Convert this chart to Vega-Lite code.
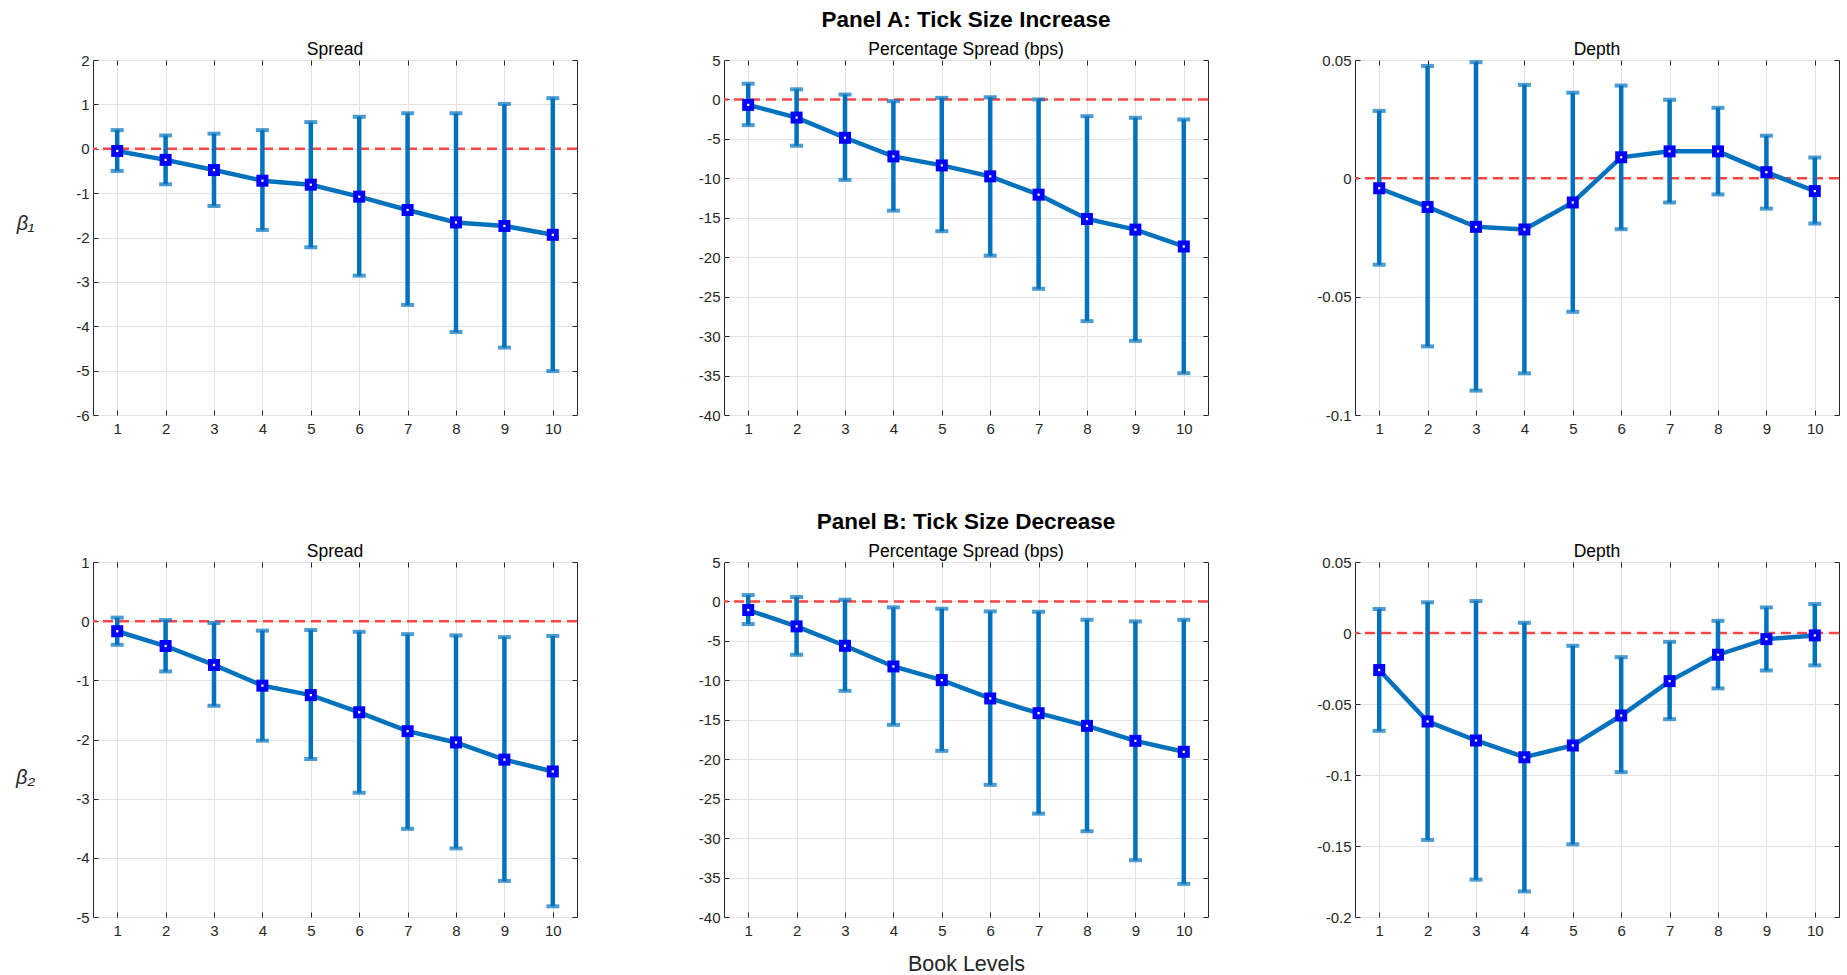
{
  "$schema": "https://vega.github.io/schema/vega-lite/v6.json",
  "background": "white",
  "padding": {"left": 14, "top": 8, "right": 5, "bottom": 3},
  "config": {
    "font": "Liberation Sans",
    "view": {"stroke": "#262626", "strokeWidth": 1},
    "axis": {"labelFont": "Liberation Sans", "labelFontSize": 15, "labelColor": "#262626", "tickColor": "#262626", "tickSize": -5, "tickWidth": 1, "gridColor": "#e3e3e3", "gridWidth": 1, "domain": false, "titleFont": "Liberation Sans", "titleColor": "#262626", "titleFontWeight": "normal", "labelFlush": false, "labelOverlap": false},
    "title": {"font": "Liberation Sans", "fontSize": 17.5, "fontWeight": "normal", "color": "#000000", "offset": -5, "subtitleFont": "Liberation Sans", "subtitleFontSize": 17.5, "subtitleColor": "#000000", "subtitlePadding": 9}
  },
  "datasets": {
    "d": [
      {"p": "A1", "x": 1, "est": -0.05, "lo": -0.50, "hi": 0.42},
      {"p": "A1", "x": 2, "est": -0.25, "lo": -0.80, "hi": 0.30},
      {"p": "A1", "x": 3, "est": -0.48, "lo": -1.29, "hi": 0.34},
      {"p": "A1", "x": 4, "est": -0.72, "lo": -1.83, "hi": 0.42},
      {"p": "A1", "x": 5, "est": -0.81, "lo": -2.22, "hi": 0.60},
      {"p": "A1", "x": 6, "est": -1.08, "lo": -2.86, "hi": 0.72},
      {"p": "A1", "x": 7, "est": -1.38, "lo": -3.52, "hi": 0.80},
      {"p": "A1", "x": 8, "est": -1.66, "lo": -4.13, "hi": 0.80},
      {"p": "A1", "x": 9, "est": -1.74, "lo": -4.48, "hi": 1.01},
      {"p": "A1", "x": 10, "est": -1.94, "lo": -5.01, "hi": 1.14},
      {"p": "A2", "x": 1, "est": -0.69, "lo": -3.26, "hi": 2.0},
      {"p": "A2", "x": 2, "est": -2.3, "lo": -5.87, "hi": 1.29},
      {"p": "A2", "x": 3, "est": -4.86, "lo": -10.2, "hi": 0.62},
      {"p": "A2", "x": 4, "est": -7.22, "lo": -14.1, "hi": -0.22},
      {"p": "A2", "x": 5, "est": -8.36, "lo": -16.7, "hi": 0.2},
      {"p": "A2", "x": 6, "est": -9.75, "lo": -19.8, "hi": 0.28},
      {"p": "A2", "x": 7, "est": -12.07, "lo": -24.0, "hi": 0.0},
      {"p": "A2", "x": 8, "est": -15.15, "lo": -28.1, "hi": -2.12},
      {"p": "A2", "x": 9, "est": -16.5, "lo": -30.6, "hi": -2.33},
      {"p": "A2", "x": 10, "est": -18.64, "lo": -34.7, "hi": -2.54},
      {"p": "A3", "x": 1, "est": -0.0042, "lo": -0.0365, "hi": 0.0285},
      {"p": "A3", "x": 2, "est": -0.0121, "lo": -0.0710, "hi": 0.0475},
      {"p": "A3", "x": 3, "est": -0.0205, "lo": -0.0897, "hi": 0.0491},
      {"p": "A3", "x": 4, "est": -0.0216, "lo": -0.0824, "hi": 0.0395},
      {"p": "A3", "x": 5, "est": -0.0102, "lo": -0.0564, "hi": 0.0362},
      {"p": "A3", "x": 6, "est": 0.0089, "lo": -0.0215, "hi": 0.0392},
      {"p": "A3", "x": 7, "est": 0.0114, "lo": -0.0102, "hi": 0.0332},
      {"p": "A3", "x": 8, "est": 0.0114, "lo": -0.0068, "hi": 0.0298},
      {"p": "A3", "x": 9, "est": 0.0026, "lo": -0.0128, "hi": 0.0180},
      {"p": "A3", "x": 10, "est": -0.0054, "lo": -0.0191, "hi": 0.0088},
      {"p": "B1", "x": 1, "est": -0.17, "lo": -0.40, "hi": 0.06},
      {"p": "B1", "x": 2, "est": -0.42, "lo": -0.85, "hi": 0.02},
      {"p": "B1", "x": 3, "est": -0.74, "lo": -1.43, "hi": -0.03},
      {"p": "B1", "x": 4, "est": -1.09, "lo": -2.02, "hi": -0.16},
      {"p": "B1", "x": 5, "est": -1.25, "lo": -2.33, "hi": -0.15},
      {"p": "B1", "x": 6, "est": -1.54, "lo": -2.90, "hi": -0.18},
      {"p": "B1", "x": 7, "est": -1.86, "lo": -3.51, "hi": -0.22},
      {"p": "B1", "x": 8, "est": -2.05, "lo": -3.84, "hi": -0.24},
      {"p": "B1", "x": 9, "est": -2.34, "lo": -4.39, "hi": -0.27},
      {"p": "B1", "x": 10, "est": -2.54, "lo": -4.82, "hi": -0.25},
      {"p": "B2", "x": 1, "est": -1.09, "lo": -2.87, "hi": 0.81},
      {"p": "B2", "x": 2, "est": -3.16, "lo": -6.76, "hi": 0.56},
      {"p": "B2", "x": 3, "est": -5.62, "lo": -11.33, "hi": 0.22},
      {"p": "B2", "x": 4, "est": -8.24, "lo": -15.64, "hi": -0.75},
      {"p": "B2", "x": 5, "est": -9.97, "lo": -18.94, "hi": -0.92},
      {"p": "B2", "x": 6, "est": -12.3, "lo": -23.25, "hi": -1.26},
      {"p": "B2", "x": 7, "est": -14.16, "lo": -26.9, "hi": -1.31},
      {"p": "B2", "x": 8, "est": -15.77, "lo": -29.13, "hi": -2.32},
      {"p": "B2", "x": 9, "est": -17.67, "lo": -32.8, "hi": -2.53},
      {"p": "B2", "x": 10, "est": -19.06, "lo": -35.8, "hi": -2.32},
      {"p": "B3", "x": 1, "est": -0.0261, "lo": -0.0689, "hi": 0.0169},
      {"p": "B3", "x": 2, "est": -0.0623, "lo": -0.1457, "hi": 0.0216},
      {"p": "B3", "x": 3, "est": -0.0757, "lo": -0.1737, "hi": 0.0225},
      {"p": "B3", "x": 4, "est": -0.0875, "lo": -0.1820, "hi": 0.0072},
      {"p": "B3", "x": 5, "est": -0.0792, "lo": -0.1488, "hi": -0.0090},
      {"p": "B3", "x": 6, "est": -0.0581, "lo": -0.0980, "hi": -0.0170},
      {"p": "B3", "x": 7, "est": -0.0339, "lo": -0.0607, "hi": -0.0062},
      {"p": "B3", "x": 8, "est": -0.0153, "lo": -0.0390, "hi": 0.0086},
      {"p": "B3", "x": 9, "est": -0.0043, "lo": -0.0264, "hi": 0.0180},
      {"p": "B3", "x": 10, "est": -0.0017, "lo": -0.0228, "hi": 0.0204}
    ]
  },
  "columns": 3,
  "spacing": {"row": 147, "column": 147},
  "bounds": "flush",
  "concat": [
    {
      "width": 484, "height": 355,
      "title": {"text": "Spread"},
      "resolve": {"axis": {"x": "independent", "y": "independent"}},
      "layer": [
        {"data": {"values": [{"zero": 0}]}, "mark": {"type": "rule", "color": "#ff4646", "strokeWidth": 2.5, "strokeDash": [10, 6]}, "encoding": {"y": {"field": "zero", "type": "quantitative", "axis": null}}},
        {"data": {"name": "d"}, "transform": [{"filter": "datum.p == 'A1'"}], "mark": {"type": "rule", "color": "#0072bd", "strokeWidth": 4.5},
          "encoding": {
            "x": {"field": "x", "type": "quantitative", "scale": {"domain": [0.5, 10.5], "nice": false, "zero": false}, "axis": {"orient": "bottom", "values": [1,2,3,4,5,6,7,8,9,10], "title": null, "labelPadding": 11, "grid": true}},
            "y": {"field": "lo", "type": "quantitative", "scale": {"domain": [-6, 2], "nice": false, "zero": false}, "axis": {"orient": "left", "values": [-6,-5,-4,-3,-2,-1,0,1,2], "labelExpr": "'' + datum.value", "labelPadding": 9, "grid": true, "title": "β₁", "titleAngle": 0, "titleX": -68, "titleY": 163, "titleAlign": "center", "titleBaseline": "middle", "titleFontSize": 20, "titleFontStyle": "italic"}},
            "y2": {"field": "hi"}}},
        {"data": {"name": "d"}, "transform": [{"filter": "datum.p == 'A1'"}, {"fold": ["lo", "hi"]}], "mark": {"type": "tick", "orient": "horizontal", "color": "#0072bd", "size": 13, "thickness": 4},
          "encoding": {
            "x": {"field": "x", "type": "quantitative", "axis": {"orient": "top", "values": [1,2,3,4,5,6,7,8,9,10], "labels": false, "grid": false, "title": null}},
            "y": {"field": "value", "type": "quantitative", "axis": {"orient": "right", "values": [-6,-5,-4,-3,-2,-1,0,1,2], "labels": false, "grid": false, "title": null}}}},
        {"data": {"name": "d"}, "transform": [{"filter": "datum.p == 'A1'"}], "mark": {"type": "line", "color": "#0072bd", "strokeWidth": 4.5},
          "encoding": {"x": {"field": "x", "type": "quantitative", "axis": null}, "y": {"field": "est", "type": "quantitative", "axis": null}}},
        {"data": {"name": "d"}, "transform": [{"filter": "datum.p == 'A1'"}], "mark": {"type": "point", "shape": "square", "filled": true, "color": "#0000ff", "size": 144, "opacity": 1},
          "encoding": {"x": {"field": "x", "type": "quantitative", "axis": null}, "y": {"field": "est", "type": "quantitative", "axis": null}}},
        {"data": {"name": "d"}, "transform": [{"filter": "datum.p == 'A1'"}], "mark": {"type": "point", "shape": "square", "filled": true, "color": "#ffffff", "size": 5, "opacity": 1},
          "encoding": {"x": {"field": "x", "type": "quantitative", "axis": null}, "y": {"field": "est", "type": "quantitative", "axis": null}}}
      ]
    },
    {
      "width": 484, "height": 355,
      "title": {"text": "Panel A: Tick Size Increase", "fontSize": 22.5, "fontWeight": "bold", "subtitle": "Percentage Spread (bps)"},
      "resolve": {"axis": {"x": "independent", "y": "independent"}},
      "layer": [
        {"data": {"values": [{"zero": 0}]}, "mark": {"type": "rule", "color": "#ff4646", "strokeWidth": 2.5, "strokeDash": [10, 6]}, "encoding": {"y": {"field": "zero", "type": "quantitative", "axis": null}}},
        {"data": {"name": "d"}, "transform": [{"filter": "datum.p == 'A2'"}], "mark": {"type": "rule", "color": "#0072bd", "strokeWidth": 4.5},
          "encoding": {
            "x": {"field": "x", "type": "quantitative", "scale": {"domain": [0.5, 10.5], "nice": false, "zero": false}, "axis": {"orient": "bottom", "values": [1,2,3,4,5,6,7,8,9,10], "title": null, "labelPadding": 11, "grid": true}},
            "y": {"field": "lo", "type": "quantitative", "scale": {"domain": [-40, 5], "nice": false, "zero": false}, "axis": {"orient": "left", "values": [-40,-35,-30,-25,-20,-15,-10,-5,0,5], "labelExpr": "'' + datum.value", "labelPadding": 9, "grid": true, "title": null}},
            "y2": {"field": "hi"}}},
        {"data": {"name": "d"}, "transform": [{"filter": "datum.p == 'A2'"}, {"fold": ["lo", "hi"]}], "mark": {"type": "tick", "orient": "horizontal", "color": "#0072bd", "size": 13, "thickness": 4},
          "encoding": {
            "x": {"field": "x", "type": "quantitative", "axis": {"orient": "top", "values": [1,2,3,4,5,6,7,8,9,10], "labels": false, "grid": false, "title": null}},
            "y": {"field": "value", "type": "quantitative", "axis": {"orient": "right", "values": [-40,-35,-30,-25,-20,-15,-10,-5,0,5], "labels": false, "grid": false, "title": null}}}},
        {"data": {"name": "d"}, "transform": [{"filter": "datum.p == 'A2'"}], "mark": {"type": "line", "color": "#0072bd", "strokeWidth": 4.5},
          "encoding": {"x": {"field": "x", "type": "quantitative", "axis": null}, "y": {"field": "est", "type": "quantitative", "axis": null}}},
        {"data": {"name": "d"}, "transform": [{"filter": "datum.p == 'A2'"}], "mark": {"type": "point", "shape": "square", "filled": true, "color": "#0000ff", "size": 144, "opacity": 1},
          "encoding": {"x": {"field": "x", "type": "quantitative", "axis": null}, "y": {"field": "est", "type": "quantitative", "axis": null}}},
        {"data": {"name": "d"}, "transform": [{"filter": "datum.p == 'A2'"}], "mark": {"type": "point", "shape": "square", "filled": true, "color": "#ffffff", "size": 5, "opacity": 1},
          "encoding": {"x": {"field": "x", "type": "quantitative", "axis": null}, "y": {"field": "est", "type": "quantitative", "axis": null}}}
      ]
    },
    {
      "width": 484, "height": 355,
      "title": {"text": "Depth"},
      "resolve": {"axis": {"x": "independent", "y": "independent"}},
      "layer": [
        {"data": {"values": [{"zero": 0}]}, "mark": {"type": "rule", "color": "#ff4646", "strokeWidth": 2.5, "strokeDash": [10, 6]}, "encoding": {"y": {"field": "zero", "type": "quantitative", "axis": null}}},
        {"data": {"name": "d"}, "transform": [{"filter": "datum.p == 'A3'"}], "mark": {"type": "rule", "color": "#0072bd", "strokeWidth": 4.5},
          "encoding": {
            "x": {"field": "x", "type": "quantitative", "scale": {"domain": [0.5, 10.5], "nice": false, "zero": false}, "axis": {"orient": "bottom", "values": [1,2,3,4,5,6,7,8,9,10], "title": null, "labelPadding": 11, "grid": true}},
            "y": {"field": "lo", "type": "quantitative", "scale": {"domain": [-0.1, 0.05], "nice": false, "zero": false}, "axis": {"orient": "left", "values": [-0.1,-0.05,0,0.05], "labelExpr": "'' + datum.value", "labelPadding": 9, "grid": true, "title": null}},
            "y2": {"field": "hi"}}},
        {"data": {"name": "d"}, "transform": [{"filter": "datum.p == 'A3'"}, {"fold": ["lo", "hi"]}], "mark": {"type": "tick", "orient": "horizontal", "color": "#0072bd", "size": 13, "thickness": 4},
          "encoding": {
            "x": {"field": "x", "type": "quantitative", "axis": {"orient": "top", "values": [1,2,3,4,5,6,7,8,9,10], "labels": false, "grid": false, "title": null}},
            "y": {"field": "value", "type": "quantitative", "axis": {"orient": "right", "values": [-0.1,-0.05,0,0.05], "labels": false, "grid": false, "title": null}}}},
        {"data": {"name": "d"}, "transform": [{"filter": "datum.p == 'A3'"}], "mark": {"type": "line", "color": "#0072bd", "strokeWidth": 4.5},
          "encoding": {"x": {"field": "x", "type": "quantitative", "axis": null}, "y": {"field": "est", "type": "quantitative", "axis": null}}},
        {"data": {"name": "d"}, "transform": [{"filter": "datum.p == 'A3'"}], "mark": {"type": "point", "shape": "square", "filled": true, "color": "#0000ff", "size": 144, "opacity": 1},
          "encoding": {"x": {"field": "x", "type": "quantitative", "axis": null}, "y": {"field": "est", "type": "quantitative", "axis": null}}},
        {"data": {"name": "d"}, "transform": [{"filter": "datum.p == 'A3'"}], "mark": {"type": "point", "shape": "square", "filled": true, "color": "#ffffff", "size": 5, "opacity": 1},
          "encoding": {"x": {"field": "x", "type": "quantitative", "axis": null}, "y": {"field": "est", "type": "quantitative", "axis": null}}}
      ]
    },
    {
      "width": 484, "height": 355,
      "title": {"text": "Spread"},
      "resolve": {"axis": {"x": "independent", "y": "independent"}},
      "layer": [
        {"data": {"values": [{"zero": 0}]}, "mark": {"type": "rule", "color": "#ff4646", "strokeWidth": 2.5, "strokeDash": [10, 6]}, "encoding": {"y": {"field": "zero", "type": "quantitative", "axis": null}}},
        {"data": {"name": "d"}, "transform": [{"filter": "datum.p == 'B1'"}], "mark": {"type": "rule", "color": "#0072bd", "strokeWidth": 4.5},
          "encoding": {
            "x": {"field": "x", "type": "quantitative", "scale": {"domain": [0.5, 10.5], "nice": false, "zero": false}, "axis": {"orient": "bottom", "values": [1,2,3,4,5,6,7,8,9,10], "title": null, "labelPadding": 11, "grid": true}},
            "y": {"field": "lo", "type": "quantitative", "scale": {"domain": [-5, 1], "nice": false, "zero": false}, "axis": {"orient": "left", "values": [-5,-4,-3,-2,-1,0,1], "labelExpr": "'' + datum.value", "labelPadding": 9, "grid": true, "title": "β₂", "titleAngle": 0, "titleX": -68, "titleY": 215, "titleAlign": "center", "titleBaseline": "middle", "titleFontSize": 20, "titleFontStyle": "italic"}},
            "y2": {"field": "hi"}}},
        {"data": {"name": "d"}, "transform": [{"filter": "datum.p == 'B1'"}, {"fold": ["lo", "hi"]}], "mark": {"type": "tick", "orient": "horizontal", "color": "#0072bd", "size": 13, "thickness": 4},
          "encoding": {
            "x": {"field": "x", "type": "quantitative", "axis": {"orient": "top", "values": [1,2,3,4,5,6,7,8,9,10], "labels": false, "grid": false, "title": null}},
            "y": {"field": "value", "type": "quantitative", "axis": {"orient": "right", "values": [-5,-4,-3,-2,-1,0,1], "labels": false, "grid": false, "title": null}}}},
        {"data": {"name": "d"}, "transform": [{"filter": "datum.p == 'B1'"}], "mark": {"type": "line", "color": "#0072bd", "strokeWidth": 4.5},
          "encoding": {"x": {"field": "x", "type": "quantitative", "axis": null}, "y": {"field": "est", "type": "quantitative", "axis": null}}},
        {"data": {"name": "d"}, "transform": [{"filter": "datum.p == 'B1'"}], "mark": {"type": "point", "shape": "square", "filled": true, "color": "#0000ff", "size": 144, "opacity": 1},
          "encoding": {"x": {"field": "x", "type": "quantitative", "axis": null}, "y": {"field": "est", "type": "quantitative", "axis": null}}},
        {"data": {"name": "d"}, "transform": [{"filter": "datum.p == 'B1'"}], "mark": {"type": "point", "shape": "square", "filled": true, "color": "#ffffff", "size": 5, "opacity": 1},
          "encoding": {"x": {"field": "x", "type": "quantitative", "axis": null}, "y": {"field": "est", "type": "quantitative", "axis": null}}}
      ]
    },
    {
      "width": 484, "height": 355,
      "title": {"text": "Panel B: Tick Size Decrease", "fontSize": 22.5, "fontWeight": "bold", "subtitle": "Percentage Spread (bps)"},
      "resolve": {"axis": {"x": "independent", "y": "independent"}},
      "layer": [
        {"data": {"values": [{"zero": 0}]}, "mark": {"type": "rule", "color": "#ff4646", "strokeWidth": 2.5, "strokeDash": [10, 6]}, "encoding": {"y": {"field": "zero", "type": "quantitative", "axis": null}}},
        {"data": {"name": "d"}, "transform": [{"filter": "datum.p == 'B2'"}], "mark": {"type": "rule", "color": "#0072bd", "strokeWidth": 4.5},
          "encoding": {
            "x": {"field": "x", "type": "quantitative", "scale": {"domain": [0.5, 10.5], "nice": false, "zero": false}, "axis": {"orient": "bottom", "values": [1,2,3,4,5,6,7,8,9,10], "title": "Book Levels", "titleFontSize": 21.5, "titlePadding": 15, "labelPadding": 11, "grid": true}},
            "y": {"field": "lo", "type": "quantitative", "scale": {"domain": [-40, 5], "nice": false, "zero": false}, "axis": {"orient": "left", "values": [-40,-35,-30,-25,-20,-15,-10,-5,0,5], "labelExpr": "'' + datum.value", "labelPadding": 9, "grid": true, "title": null}},
            "y2": {"field": "hi"}}},
        {"data": {"name": "d"}, "transform": [{"filter": "datum.p == 'B2'"}, {"fold": ["lo", "hi"]}], "mark": {"type": "tick", "orient": "horizontal", "color": "#0072bd", "size": 13, "thickness": 4},
          "encoding": {
            "x": {"field": "x", "type": "quantitative", "axis": {"orient": "top", "values": [1,2,3,4,5,6,7,8,9,10], "labels": false, "grid": false, "title": null}},
            "y": {"field": "value", "type": "quantitative", "axis": {"orient": "right", "values": [-40,-35,-30,-25,-20,-15,-10,-5,0,5], "labels": false, "grid": false, "title": null}}}},
        {"data": {"name": "d"}, "transform": [{"filter": "datum.p == 'B2'"}], "mark": {"type": "line", "color": "#0072bd", "strokeWidth": 4.5},
          "encoding": {"x": {"field": "x", "type": "quantitative", "axis": null}, "y": {"field": "est", "type": "quantitative", "axis": null}}},
        {"data": {"name": "d"}, "transform": [{"filter": "datum.p == 'B2'"}], "mark": {"type": "point", "shape": "square", "filled": true, "color": "#0000ff", "size": 144, "opacity": 1},
          "encoding": {"x": {"field": "x", "type": "quantitative", "axis": null}, "y": {"field": "est", "type": "quantitative", "axis": null}}},
        {"data": {"name": "d"}, "transform": [{"filter": "datum.p == 'B2'"}], "mark": {"type": "point", "shape": "square", "filled": true, "color": "#ffffff", "size": 5, "opacity": 1},
          "encoding": {"x": {"field": "x", "type": "quantitative", "axis": null}, "y": {"field": "est", "type": "quantitative", "axis": null}}}
      ]
    },
    {
      "width": 484, "height": 355,
      "title": {"text": "Depth"},
      "resolve": {"axis": {"x": "independent", "y": "independent"}},
      "layer": [
        {"data": {"values": [{"zero": 0}]}, "mark": {"type": "rule", "color": "#ff4646", "strokeWidth": 2.5, "strokeDash": [10, 6]}, "encoding": {"y": {"field": "zero", "type": "quantitative", "axis": null}}},
        {"data": {"name": "d"}, "transform": [{"filter": "datum.p == 'B3'"}], "mark": {"type": "rule", "color": "#0072bd", "strokeWidth": 4.5},
          "encoding": {
            "x": {"field": "x", "type": "quantitative", "scale": {"domain": [0.5, 10.5], "nice": false, "zero": false}, "axis": {"orient": "bottom", "values": [1,2,3,4,5,6,7,8,9,10], "title": null, "labelPadding": 11, "grid": true}},
            "y": {"field": "lo", "type": "quantitative", "scale": {"domain": [-0.2, 0.05], "nice": false, "zero": false}, "axis": {"orient": "left", "values": [-0.2,-0.15,-0.1,-0.05,0,0.05], "labelExpr": "'' + datum.value", "labelPadding": 9, "grid": true, "title": null}},
            "y2": {"field": "hi"}}},
        {"data": {"name": "d"}, "transform": [{"filter": "datum.p == 'B3'"}, {"fold": ["lo", "hi"]}], "mark": {"type": "tick", "orient": "horizontal", "color": "#0072bd", "size": 13, "thickness": 4},
          "encoding": {
            "x": {"field": "x", "type": "quantitative", "axis": {"orient": "top", "values": [1,2,3,4,5,6,7,8,9,10], "labels": false, "grid": false, "title": null}},
            "y": {"field": "value", "type": "quantitative", "axis": {"orient": "right", "values": [-0.2,-0.15,-0.1,-0.05,0,0.05], "labels": false, "grid": false, "title": null}}}},
        {"data": {"name": "d"}, "transform": [{"filter": "datum.p == 'B3'"}], "mark": {"type": "line", "color": "#0072bd", "strokeWidth": 4.5},
          "encoding": {"x": {"field": "x", "type": "quantitative", "axis": null}, "y": {"field": "est", "type": "quantitative", "axis": null}}},
        {"data": {"name": "d"}, "transform": [{"filter": "datum.p == 'B3'"}], "mark": {"type": "point", "shape": "square", "filled": true, "color": "#0000ff", "size": 144, "opacity": 1},
          "encoding": {"x": {"field": "x", "type": "quantitative", "axis": null}, "y": {"field": "est", "type": "quantitative", "axis": null}}},
        {"data": {"name": "d"}, "transform": [{"filter": "datum.p == 'B3'"}], "mark": {"type": "point", "shape": "square", "filled": true, "color": "#ffffff", "size": 5, "opacity": 1},
          "encoding": {"x": {"field": "x", "type": "quantitative", "axis": null}, "y": {"field": "est", "type": "quantitative", "axis": null}}}
      ]
    }
  ]
}
